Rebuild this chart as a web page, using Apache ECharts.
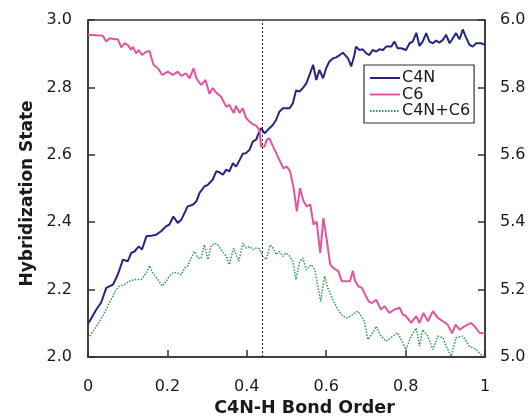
<!DOCTYPE html>
<html><head><meta charset="utf-8">
<script src="https://cdn.jsdelivr.net/npm/echarts@6/dist/echarts.min.js"></script>
<style>html,body{margin:0;padding:0;background:#fff}#c{width:531px;height:416px}</style>
</head><body><div id="c"></div>
<script>
// Data
const xTicks = [0, 0.2, 0.4, 0.6, 0.8, 1];
const leftTicks = [2.0, 2.2, 2.4, 2.6, 2.8, 3.0];
const rightTicks = [5.0, 5.2, 5.4, 5.6, 5.8, 6.0];
const markX = 0.44;

const c4nX = [0.000,0.004,0.021,0.033,0.046,0.063,0.075,0.088,0.100,0.109,0.117,0.128,0.136,0.147,0.159,0.172,0.184,0.197,0.205,0.215,0.226,0.235,0.243,0.251,0.264,0.273,0.281,0.293,0.302,0.314,0.323,0.331,0.340,0.348,0.356,0.365,0.373,0.382,0.390,0.398,0.407,0.415,0.424,0.428,0.436,0.445,0.449,0.457,0.466,0.474,0.482,0.491,0.508,0.516,0.524,0.533,0.541,0.550,0.558,0.567,0.575,0.583,0.592,0.600,0.608,0.617,0.625,0.634,0.642,0.655,0.663,0.671,0.675,0.684,0.692,0.701,0.709,0.717,0.726,0.734,0.743,0.751,0.764,0.772,0.780,0.789,0.801,0.810,0.818,0.827,0.835,0.843,0.852,0.860,0.869,0.877,0.885,0.894,0.902,0.911,0.919,0.927,0.936,0.944,0.953,0.961,0.969,0.978,0.990,1.000];
const c4nY = [2.100,2.106,2.141,2.161,2.205,2.215,2.244,2.289,2.284,2.309,2.313,2.328,2.319,2.358,2.360,2.363,2.373,2.388,2.393,2.417,2.398,2.407,2.427,2.447,2.452,2.462,2.487,2.506,2.511,2.526,2.551,2.548,2.541,2.556,2.551,2.575,2.565,2.585,2.603,2.605,2.615,2.639,2.646,2.659,2.679,2.664,2.659,2.679,2.689,2.704,2.728,2.738,2.738,2.753,2.791,2.788,2.798,2.812,2.837,2.867,2.822,2.852,2.827,2.857,2.877,2.886,2.889,2.896,2.903,2.886,2.862,2.896,2.921,2.911,2.913,2.901,2.896,2.911,2.906,2.913,2.911,2.921,2.921,2.936,2.916,2.916,2.911,2.931,2.936,2.962,2.923,2.936,2.961,2.936,2.931,2.939,2.933,2.941,2.956,2.931,2.946,2.961,2.943,2.972,2.946,2.926,2.921,2.931,2.931,2.926];

const c6X = [0.000,0.037,0.046,0.054,0.067,0.075,0.084,0.092,0.100,0.109,0.113,0.121,0.128,0.136,0.147,0.155,0.165,0.176,0.187,0.201,0.214,0.226,0.235,0.247,0.256,0.266,0.273,0.285,0.296,0.306,0.314,0.324,0.335,0.348,0.356,0.367,0.373,0.382,0.390,0.398,0.411,0.424,0.432,0.436,0.445,0.450,0.457,0.466,0.474,0.482,0.492,0.501,0.509,0.518,0.526,0.534,0.543,0.551,0.560,0.568,0.576,0.585,0.593,0.602,0.610,0.618,0.631,0.639,0.652,0.660,0.667,0.673,0.681,0.690,0.698,0.707,0.715,0.726,0.738,0.747,0.759,0.772,0.785,0.793,0.801,0.814,0.827,0.835,0.845,0.856,0.869,0.881,0.894,0.906,0.917,0.926,0.936,0.948,0.965,0.974,0.986,1.000];
const c6Y = [2.956,2.953,2.936,2.946,2.943,2.943,2.919,2.931,2.926,2.911,2.921,2.901,2.911,2.896,2.906,2.908,2.867,2.857,2.837,2.847,2.837,2.847,2.834,2.842,2.827,2.857,2.827,2.807,2.822,2.781,2.798,2.783,2.773,2.743,2.748,2.724,2.745,2.724,2.738,2.709,2.694,2.686,2.674,2.625,2.625,2.644,2.649,2.625,2.605,2.585,2.560,2.565,2.551,2.501,2.432,2.501,2.462,2.447,2.452,2.393,2.402,2.309,2.412,2.343,2.274,2.264,2.254,2.225,2.225,2.225,2.256,2.225,2.210,2.205,2.185,2.165,2.160,2.170,2.141,2.151,2.131,2.141,2.146,2.126,2.121,2.101,2.121,2.101,2.131,2.106,2.136,2.116,2.106,2.096,2.070,2.096,2.081,2.091,2.101,2.091,2.072,2.070];

const sumX = [0.000,0.004,0.021,0.037,0.054,0.071,0.079,0.092,0.105,0.117,0.134,0.147,0.155,0.163,0.176,0.187,0.197,0.205,0.215,0.226,0.235,0.243,0.251,0.260,0.268,0.277,0.285,0.293,0.302,0.310,0.319,0.327,0.335,0.348,0.356,0.367,0.373,0.380,0.390,0.398,0.407,0.415,0.424,0.432,0.440,0.449,0.459,0.466,0.474,0.482,0.491,0.499,0.508,0.516,0.524,0.533,0.541,0.550,0.562,0.571,0.579,0.586,0.596,0.604,0.617,0.629,0.642,0.654,0.667,0.680,0.696,0.705,0.717,0.726,0.738,0.751,0.768,0.780,0.793,0.801,0.814,0.827,0.835,0.843,0.856,0.869,0.881,0.894,0.902,0.915,0.927,0.944,0.961,0.978,0.990,0.999];
const sumY = [5.055,5.062,5.091,5.121,5.161,5.200,5.210,5.215,5.225,5.230,5.230,5.249,5.271,5.249,5.230,5.210,5.225,5.240,5.251,5.249,5.244,5.264,5.269,5.294,5.313,5.294,5.294,5.333,5.289,5.328,5.338,5.333,5.319,5.299,5.274,5.323,5.304,5.284,5.338,5.323,5.328,5.319,5.323,5.321,5.299,5.289,5.333,5.323,5.304,5.313,5.299,5.309,5.299,5.284,5.230,5.282,5.294,5.259,5.274,5.259,5.210,5.165,5.240,5.205,5.170,5.141,5.121,5.116,5.126,5.136,5.106,5.052,5.072,5.091,5.062,5.047,5.062,5.072,5.042,5.022,5.062,5.086,5.032,5.081,5.062,5.022,5.062,5.057,5.032,5.002,5.057,5.062,5.032,5.022,5.007,5.002];

const zip = (xs, ys) => xs.map((x, i) => [x, ys[i]]);

const FONT = "'DejaVu Sans', 'Liberation Sans', Arial, sans-serif";
const txt = '#1a1a1a';
const axisCol = '#333';

const chart = echarts.init(document.getElementById('c'), null, {renderer: 'canvas'});
chart.setOption({
  animation: false,
  backgroundColor: '#fff',
  grid: {left: 88, right: 46, top: 20, bottom: 59, show: true, borderColor: axisCol, borderWidth: 1.5,
         containLabel: false, outerBoundsMode: 'none'},
  legend: {
    orient: 'vertical', left: 364, top: 65,
    data: ['C4N', 'C6', 'C4N+C6'],
    itemWidth: 30, itemHeight: 14, itemGap: 0.5,
    padding: [5, 4, 4, 5],
    borderColor: axisCol, borderWidth: 1.2,
    backgroundColor: '#fff',
    itemStyle: {opacity: 0},
    textStyle: {fontFamily: FONT, fontSize: 16, color: txt, lineHeight: 14, padding: [0, 0, 0, -3]}
  },
  xAxis: {
    type: 'value', min: 0, max: 1, interval: 0.2,
    name: 'C4N-H Bond Order', nameLocation: 'middle', nameGap: 42,
    nameTextStyle: {fontFamily: FONT, fontSize: 17.5, fontWeight: 'bold', color: txt, padding: [0, 0, 0, 36]},
    axisLine: {show: true, lineStyle: {color: axisCol, width: 1.5}},
    axisTick: {show: true, inside: true, length: 7, lineStyle: {color: axisCol, width: 1.5}},
    axisLabel: {fontFamily: FONT, fontSize: 16, color: txt, margin: 22,
      formatter: v => { const t = xTicks.find(k => Math.abs(k - v) < 1e-6); return t === undefined ? '' : String(t); }},
    splitLine: {show: false}
  },
  yAxis: [{
    type: 'value', min: 2.0, max: 3.0, interval: 0.2, position: 'left',
    name: 'Hybridization State', nameLocation: 'middle', nameGap: 52, nameRotate: 90,
    nameTextStyle: {fontFamily: FONT, fontSize: 17, fontWeight: 'bold', color: txt, padding: [0, 10, 0, 0]},
    axisLine: {show: true, lineStyle: {color: axisCol, width: 1.5}},
    axisTick: {show: true, inside: true, length: 7, lineStyle: {color: axisCol, width: 1.5}},
    axisLabel: {fontFamily: FONT, fontSize: 16, color: txt, margin: 16,
      formatter: v => { const t = leftTicks.find(k => Math.abs(k - v) < 1e-6); return t === undefined ? '' : t.toFixed(1); }},
    splitLine: {show: false}
  }, {
    type: 'value', min: 5.0, max: 6.0, interval: 0.2, position: 'right',
    axisLine: {show: true, lineStyle: {color: axisCol, width: 1.5}},
    axisTick: {show: true, inside: true, length: 7, lineStyle: {color: axisCol, width: 1.5}},
    axisLabel: {fontFamily: FONT, fontSize: 16, color: txt, margin: 15,
      formatter: v => { const t = rightTicks.find(k => Math.abs(k - v) < 1e-6); return t === undefined ? '' : t.toFixed(1); }},
    splitLine: {show: false}
  }],
  series: [{
    name: 'C4N', type: 'line', yAxisIndex: 0, data: zip(c4nX, c4nY),
    showSymbol: false, symbol: 'none', smooth: false,
    lineStyle: {color: '#262680', width: 2}, itemStyle: {color: '#262680'},
    markLine: {
      silent: true, symbol: 'none', label: {show: false},
      lineStyle: {color: '#222', width: 1, type: [2, 2]},
      data: [{xAxis: markX}]
    }
  }, {
    name: 'C6', type: 'line', yAxisIndex: 0, data: zip(c6X, c6Y),
    showSymbol: false, symbol: 'none',
    lineStyle: {color: '#e4549c', width: 2}, itemStyle: {color: '#e4549c'}
  }, {
    name: 'C4N+C6', type: 'line', yAxisIndex: 1, data: zip(sumX, sumY),
    showSymbol: false, symbol: 'none',
    lineStyle: {color: '#2a9a4c', width: 1.5, type: [1.5, 1.5]}, itemStyle: {color: '#2a9a4c'}
  }]
});
</script>
</body></html>
